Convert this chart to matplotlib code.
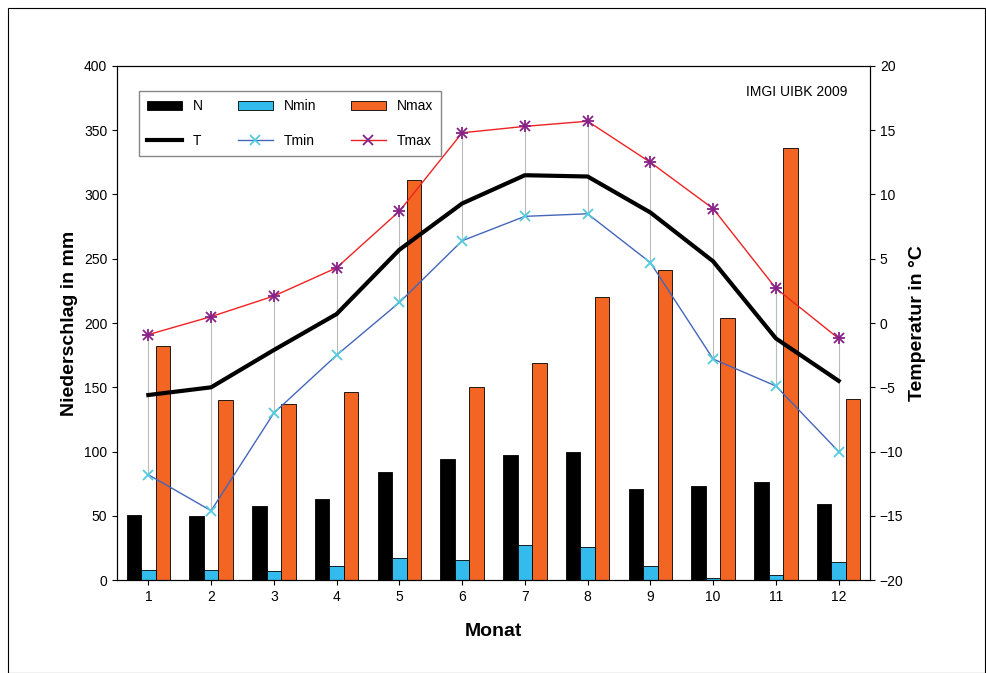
import matplotlib
matplotlib.use("Agg")
import matplotlib.pyplot as plt
import numpy as np

months = [1,2,3,4,5,6,7,8,9,10,11,12]
N = [50.6,50,57.6,63,84,94,97,99.6,71,73,76,59]
Nmin = [8,8,7,11,17,16,27,26,11,1.5,4,14]
Nmax = [182,140,137,146,311,150,169,220,241,204,336,141]
T = [-5.6,-5.0,-2.1,0.7,5.7,9.3,11.5,11.4,8.6,4.8,-1.2,-4.5]
Tmin = [-11.8,-14.6,-7.0,-2.5,1.6,6.4,8.3,8.5,4.7,-2.8,-4.9,-10.0]
Tmax = [-0.9,0.5,2.1,4.3,8.7,14.8,15.3,15.7,12.5,8.9,2.7,-1.2]

plt.rcParams['font.family'] = ['Liberation Sans', 'DejaVu Sans']
fig = plt.figure(figsize=(9.87,6.73), dpi=100)
fig.patches.append(plt.Rectangle((0.008,0.0),0.990,0.988,transform=fig.transFigure,fill=False,ec='black',lw=0.8))
ax = fig.add_axes([0.1185,0.138,0.7630,0.764])
x = np.array(months)
w = 0.23
b1 = ax.bar(x-w, N, w, color='black', edgecolor='black', lw=0.6)
b2 = ax.bar(x, Nmin, w, color='#33BBEE', edgecolor='black', lw=0.6)
b3 = ax.bar(x+w, Nmax, w, color='#F26522', edgecolor='black', lw=0.6)
ax.set_ylim(0,400)
ax.set_xlim(0.5,12.5)
ax.set_yticks(range(0,401,50))
ax.set_xticks(months)
ax.tick_params(labelsize=10)
ax.set_ylabel('Niederschlag in mm', fontsize=14, fontweight='bold')
ax.set_xlabel('Monat', fontsize=14, fontweight='bold', labelpad=14)
ax2 = ax.twinx()
ax2.set_ylim(-20,20)
ax2.set_yticks(range(-20,21,5))
ax2.tick_params(labelsize=10)
ax2.vlines(x, Tmin, Tmax, color='#bbbbbb', lw=0.8, zorder=1)
l1, = ax2.plot(x, T, color='black', lw=3)
l2, = ax2.plot(x, Tmin, color='#4466BB', lw=1, marker='x', mec='#55CCDD', ms=7, mew=1.3)
l3, = ax2.plot(x, Tmax, color='#EE2222', lw=1, marker='x', mec='#882288', ms=7, mew=1.3)
ax2.plot(x, Tmax, ls='none', marker='+', mec='#882288', ms=8, mew=1.3)
ax2.set_ylabel('Temperatur in °C', fontsize=14, fontweight='bold')
leg = ax2.legend([b1,l1,b2,l2,b3,l3], ['N','T','Nmin','Tmin','Nmax','Tmax'], ncol=3,
                loc='upper left', bbox_to_anchor=(0.02,0.965), fontsize=10, fancybox=False,
                edgecolor='#888888', framealpha=1, handlelength=2.5, columnspacing=2.5,
                labelspacing=1.5, borderpad=0.6)
leg.set_zorder(5)
ax2.text(0.97,0.95,'IMGI UIBK 2009', transform=ax.transAxes, ha='right', va='center', fontsize=10)
fig.savefig('out.png', dpi=100)
